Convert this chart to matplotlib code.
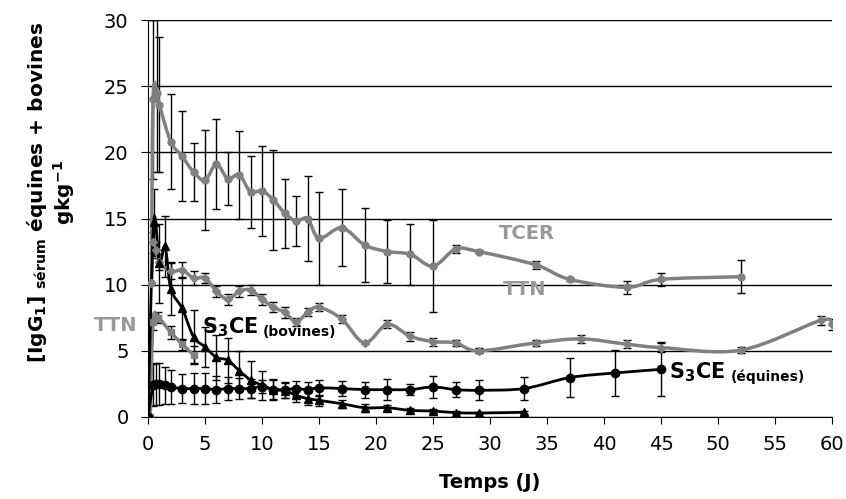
import matplotlib
matplotlib.use("Agg")
import matplotlib.pyplot as plt
import numpy as np
from matplotlib.path import Path
from matplotlib.patches import PathPatch

# --- data (jours, g/kg) ---
tcer_x = [0.3, 0.44, 0.8, 1.0, 2, 3, 4, 5, 6, 7, 8, 9, 10, 11, 12, 13, 14, 15, 17, 19, 21, 23, 25, 27, 29, 34, 37, 42, 45, 52]
tcer_y = [10.1, 24.0, 24.5, 23.6, 20.8, 19.7, 18.5, 17.9, 19.1, 18.0, 18.3, 17.0, 17.1, 16.4, 15.4, 14.8, 15.0, 13.5, 14.3, 13.0, 12.5, 12.3, 11.4, 12.7, 12.5, 11.5, 10.4, 9.8, 10.4, 10.6]
tcer_err = [0, 6.0, 6.0, 5.1, 3.6, 3.4, 2.2, 3.8, 3.4, 2.0, 3.3, 2.7, 3.4, 3.8, 2.6, 1.9, 3.2, 3.5, 2.9, 2.8, 2.4, 2.3, 3.5, 0.3, 0.1, 0.3, 0.1, 0.5, 0.5, 1.25]

ttn_x = [0.3, 0.44, 0.7, 1.0, 2, 3, 4, 5, 6, 7, 8, 9, 10, 11, 12, 13, 14, 15, 17, 19, 21, 23, 25, 27, 29, 34, 38, 42, 45, 52, 59, 60]
ttn_y = [10.1, 13.2, 12.6, 11.7, 11.0, 11.1, 10.5, 10.5, 9.5, 8.9, 9.5, 9.6, 8.9, 8.3, 7.9, 7.2, 7.9, 8.3, 7.4, 5.6, 7.0, 6.1, 5.7, 5.6, 5.0, 5.6, 5.9, 5.5, 5.25, 5.05, 7.3, 7.0]
ttn_err = [0, 0.8, 0.6, 0.6, 0.6, 0.6, 0.5, 0.4, 0.4, 0.4, 0.4, 0.4, 0.4, 0.4, 0.4, 0.3, 0.3, 0.3, 0.3, 0.1, 0.3, 0.35, 0.3, 0.25, 0.2, 0.25, 0.3, 0.3, 0.35, 0.25, 0.35, 0.4]

ttn2_x = [0.2, 0.44, 0.9, 2, 3, 4]
ttn2_y = [0.0, 7.2, 7.5, 6.4, 5.5, 4.7]
ttn2_err = [0, 0.6, 0.4, 0.5, 0.4, 0.7]

bov_x = [0, 0.5, 1.0, 1.5, 2, 3, 4, 5, 6, 7, 8, 9, 10, 11, 12, 13, 14, 15, 17, 19, 21, 23, 25, 27, 29, 33]
bov_y = [0, 14.7, 11.6, 12.9, 9.7, 8.2, 6.05, 5.3, 4.5, 4.3, 3.5, 2.8, 2.4, 2.07, 2.0, 1.64, 1.39, 1.26, 1.0, 0.7, 0.7, 0.5, 0.45, 0.33, 0.3, 0.36]
bov_err = [0, 2.5, 3.0, 2.3, 2.0, 2.4, 2.0, 1.5, 1.7, 1.7, 1.5, 1.4, 1.1, 0.8, 0.6, 0.5, 0.5, 0.4, 0.3, 0.3, 0.2, 0.2, 0.15, 0.1, 0.1, 0.1]

equ_x = [0, 0.44, 0.7, 1.0, 1.5, 2, 3, 4, 5, 6, 7, 8, 9, 10, 11, 12, 13, 14, 15, 17, 19, 21, 23, 25, 27, 29, 33, 37, 41, 45]
equ_y = [0, 2.4, 2.47, 2.47, 2.4, 2.27, 2.15, 2.15, 2.15, 2.07, 2.15, 2.15, 2.15, 2.3, 2.07, 2.07, 2.15, 2.07, 2.2, 2.15, 2.07, 2.07, 2.07, 2.27, 2.07, 2.02, 2.15, 2.98, 3.33, 3.6]
equ_err = [0, 1.6, 1.6, 1.6, 1.4, 1.3, 1.1, 1.2, 1.2, 1.0, 0.9, 0.8, 0.7, 0.5, 0.7, 0.6, 0.6, 0.6, 0.6, 0.6, 0.6, 0.8, 0.4, 0.8, 0.55, 0.75, 0.85, 1.5, 1.75, 2.05]

gray = '#808080'
plt.rcParams['font.family'] = ['DejaVu Sans']
plt.rcParams['mathtext.default'] = 'bf'


def smooth_path(xs, ys):
    # Excel style smoothed line: cubic bezier, tension 1/6
    p = np.column_stack([xs, ys]).astype(float)
    n = len(p)
    verts = [p[0]]
    codes = [Path.MOVETO]
    for i in range(n - 1):
        p0 = p[max(i - 1, 0)]
        p1 = p[i]
        p2 = p[i + 1]
        p3 = p[min(i + 2, n - 1)]
        verts += [p1 + (p2 - p0) / 6.0, p2 - (p3 - p1) / 6.0, p2]
        codes += [Path.CURVE4] * 3
    return Path(verts, codes)


fig = plt.figure(figsize=(8.46, 4.99), dpi=100)
ax = fig.add_axes([148 / 846, 82 / 499, 684 / 846, 397 / 499])

series = [
    (tcer_x, tcer_y, tcer_err, gray, 'o', 5, 2.5),
    (ttn_x, ttn_y, ttn_err, gray, 'D', 4, 2.5),
    (ttn2_x, ttn2_y, ttn2_err, gray, 's', 5, 2.5),
    (bov_x, bov_y, bov_err, 'black', '^', 6, 2),
    (equ_x, equ_y, equ_err, 'black', 'o', 6, 2),
]
for xs, ys, es, col, mk, ms, lw in series:
    ax.errorbar(xs, ys, yerr=es, fmt='none', ecolor='black', elinewidth=1,
                capsize=2.8, capthick=1, zorder=2)
    ax.add_patch(PathPatch(smooth_path(xs, ys), facecolor='none', edgecolor=col,
                           lw=lw, zorder=3))
    ax.plot(xs, ys, linestyle='none', marker=mk, ms=ms, color=col, zorder=4)

ax.set_xlim(0, 60)
ax.set_ylim(0, 30)
ax.set_xticks(np.arange(0, 61, 5))
ax.set_yticks(np.arange(0, 31, 5))
ax.yaxis.grid(True, color='black', lw=1)
ax.set_axisbelow(True)
for s in ['top', 'right']:
    ax.spines[s].set_visible(False)
ax.tick_params(labelsize=14, length=5, direction='out')
ax.tick_params(axis='x', pad=8)
ax.tick_params(axis='y', pad=9)

ax.set_xlabel('Temps (J)', fontsize=14, fontweight='bold', labelpad=14)
fig.text(51 / 846, 1 - 192 / 499,
         '[IgG$_1$] $_{sérum}$ équines + bovines\ngkg$^{-1}$',
         rotation=90, ha='center', va='center', fontsize=14.5,
         fontweight='bold', multialignment='center', linespacing=1.15)

ax.text(33.2, 13.9, 'TCER', color='#999999', fontsize=14, fontweight='bold',
        ha='center', va='center')
ax.text(33.0, 9.6, 'TTN', color='#999999', fontsize=14, fontweight='bold',
        ha='center', va='center')
ax.text(-2.8, 6.9, 'TTN', color='#999999', fontsize=14, fontweight='bold',
        ha='center', va='center', clip_on=False)

t1 = ax.text(4.7, 6.3, 'S$_3$CE', fontsize=15, fontweight='bold', va='baseline')
ax.annotate('(bovines)', xy=(1, 0), xycoords=t1, xytext=(4, 0),
            textcoords='offset points', fontsize=10, fontweight='bold', va='bottom')
t2 = ax.text(45.7, 2.9, 'S$_3$CE', fontsize=15, fontweight='bold', va='baseline')
ax.annotate('(équines)', xy=(1, 0), xycoords=t2, xytext=(4, 0),
            textcoords='offset points', fontsize=10, fontweight='bold', va='bottom')

fig.savefig('out.png', dpi=100)
